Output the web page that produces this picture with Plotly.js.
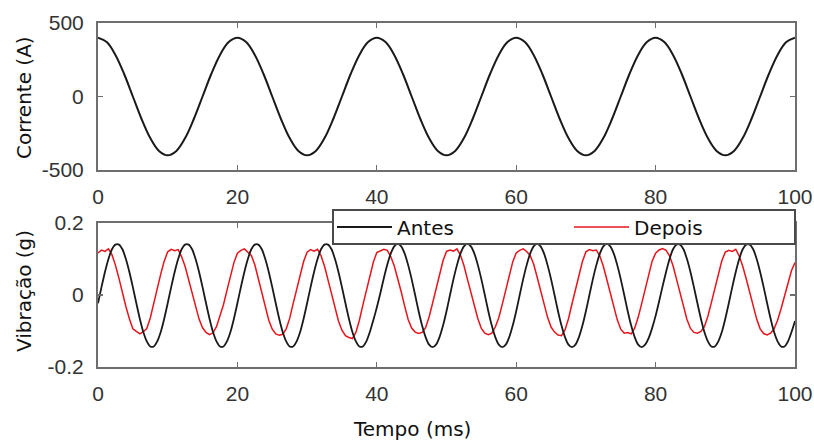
<!DOCTYPE html>
<html>
<head>
<meta charset="utf-8">
<script src="https://cdn.plot.ly/plotly-3.0.1.min.js"></script>
<style>html,body{margin:0;padding:0;background:#fff;}#chart{width:814px;height:440px;}</style>
</head>
<body>
<div id="chart"></div>
<script>
// ---- Data ----
// Top panel: current (A), sampled every 1.25 ms from 0 ms
const currentStart = 0;
const currentStep = 1.25;
const current = [
  400, 370, 283, 153, 0, -153, -283, -370, -400, -370, -283, -153, 0, 153, 283, 370,
  400, 370, 283, 153, 0, -153, -283, -370, -400, -370, -283, -153, 0, 153, 283, 370,
  400, 370, 283, 153, 0, -153, -283, -370, -400, -370, -283, -153, 0, 153, 283, 370,
  400, 370, 283, 153, 0, -153, -283, -370, -400, -370, -283, -153, 0, 153, 283, 370,
  400, 370, 283, 153, 0, -153, -283, -370, -400, -370, -283, -153, 0, 153, 283, 370,
  400
];

// Bottom panel: vibration (g), sampled every 0.5 ms from 0 ms
const vibStart = 0;
const vibStep = 0.5;
const vibAntes = [
  -0.023, 0.022, 0.064, 0.100, 0.127, 0.140, 0.140, 0.127, 0.100, 0.064, 0.022, -0.023, -0.066, -0.103, -0.129, -0.143, -0.143, -0.129, -0.103, -0.066,
  -0.023, 0.022, 0.064, 0.100, 0.127, 0.140, 0.140, 0.127, 0.100, 0.064, 0.022, -0.023, -0.066, -0.103, -0.129, -0.143, -0.143, -0.129, -0.103, -0.066,
  -0.023, 0.022, 0.064, 0.100, 0.127, 0.140, 0.140, 0.127, 0.100, 0.064, 0.022, -0.023, -0.066, -0.103, -0.129, -0.143, -0.143, -0.129, -0.103, -0.066,
  -0.023, 0.022, 0.064, 0.100, 0.127, 0.140, 0.140, 0.127, 0.100, 0.064, 0.022, -0.023, -0.066, -0.103, -0.129, -0.143, -0.143, -0.129, -0.103, -0.070,
  -0.035, 0.004, 0.046, 0.084, 0.115, 0.135, 0.142, 0.135, 0.115, 0.083, 0.044, 0.000, -0.045, -0.085, -0.117, -0.138, -0.145, -0.138, -0.117, -0.085,
  -0.045, 0.000, 0.044, 0.083, 0.115, 0.135, 0.142, 0.135, 0.115, 0.083, 0.044, 0.000, -0.045, -0.085, -0.117, -0.138, -0.145, -0.138, -0.117, -0.085,
  -0.045, 0.000, 0.044, 0.083, 0.115, 0.135, 0.142, 0.135, 0.115, 0.083, 0.044, 0.000, -0.045, -0.085, -0.117, -0.138, -0.145, -0.138, -0.117, -0.085,
  -0.045, 0.000, 0.044, 0.083, 0.115, 0.135, 0.142, 0.135, 0.115, 0.083, 0.044, 0.000, -0.045, -0.085, -0.117, -0.138, -0.145, -0.138, -0.120, -0.092,
  -0.058, -0.018, 0.024, 0.064, 0.100, 0.127, 0.140, 0.140, 0.127, 0.100, 0.064, 0.022, -0.023, -0.066, -0.103, -0.129, -0.143, -0.143, -0.129, -0.103,
  -0.066, -0.023, 0.022, 0.064, 0.100, 0.127, 0.140, 0.140, 0.127, 0.100, 0.064, 0.022, -0.023, -0.066, -0.103, -0.129, -0.143, -0.143, -0.129, -0.103,
  -0.072
];
const vibDepois = [
  0.117, 0.125, 0.121, 0.128, 0.112, 0.083, 0.047, 0.006, -0.032, -0.066, -0.094, -0.101, -0.108, -0.102, -0.093, -0.064, -0.022, 0.017, 0.058, 0.094,
  0.120, 0.127, 0.123, 0.126, 0.106, 0.079, 0.043, 0.010, -0.028, -0.067, -0.091, -0.104, -0.110, -0.105, -0.088, -0.060, -0.027, 0.013, 0.053, 0.090,
  0.116, 0.124, 0.128, 0.120, 0.110, 0.084, 0.046, 0.005, -0.033, -0.070, -0.095, -0.108, -0.112, -0.109, -0.094, -0.065, -0.024, 0.016, 0.056, 0.093,
  0.119, 0.126, 0.122, 0.127, 0.109, 0.080, 0.042, 0.004, -0.036, -0.072, -0.098, -0.113, -0.118, -0.121, -0.104, -0.070, -0.028, 0.014, 0.054, 0.091,
  0.118, 0.123, 0.127, 0.124, 0.107, 0.081, 0.048, 0.009, -0.031, -0.068, -0.092, -0.103, -0.107, -0.104, -0.091, -0.061, -0.023, 0.018, 0.057, 0.095,
  0.121, 0.125, 0.122, 0.128, 0.111, 0.082, 0.044, 0.007, -0.029, -0.066, -0.093, -0.106, -0.110, -0.106, -0.089, -0.063, -0.026, 0.015, 0.055, 0.092,
  0.117, 0.124, 0.128, 0.121, 0.110, 0.086, 0.050, 0.012, -0.026, -0.062, -0.089, -0.103, -0.111, -0.113, -0.097, -0.066, -0.025, 0.016, 0.057, 0.093,
  0.120, 0.126, 0.123, 0.125, 0.108, 0.080, 0.043, 0.006, -0.033, -0.069, -0.095, -0.106, -0.104, -0.108, -0.092, -0.062, -0.024, 0.017, 0.058, 0.094,
  0.116, 0.125, 0.129, 0.124, 0.109, 0.081, 0.044, 0.004, -0.034, -0.068, -0.093, -0.104, -0.106, -0.101, -0.088, -0.059, -0.021, 0.019, 0.059, 0.095,
  0.119, 0.124, 0.121, 0.127, 0.108, 0.080, 0.045, 0.007, -0.031, -0.067, -0.094, -0.107, -0.111, -0.106, -0.094, -0.070, -0.038, 0.000, 0.038, 0.068,
  0.090
];

const seriesNames = ['Antes', 'Depois'];
const xTickVals = [0, 20, 40, 60, 80, 100];
const xTickText = ['0', '20', '40', '60', '80', '100'];
const yTopTickVals = [-500, 0, 500];
const yTopTickText = ['-500', '0', '500'];
const yBotTickVals = [-0.2, 0, 0.2];
const yBotTickText = ['-0.2', '0', '0.2'];
const titles = {top: 'Corrente (A)', bottom: 'Vibração (g)', x: 'Tempo (ms)'};

// ---- Styling ----
const tickFont = {family: 'Liberation Sans, Arial, sans-serif', size: 21, color: '#333'};
const textFont = {family: 'DejaVu Sans, sans-serif', size: 20, color: '#111'};
const legendFont = {family: 'DejaVu Sans, sans-serif', size: 20, color: '#111'};
const boxColor = '#6e6e6e';

function axisBase(extra) {
  return Object.assign({
    showline: true, mirror: 'allticks', linecolor: boxColor, linewidth: 2,
    ticks: 'inside', ticklen: 5, tickwidth: 1.2, tickcolor: boxColor,
    showgrid: false, zeroline: false, tickfont: tickFont, fixedrange: true, automargin: false
  }, extra);
}

const traces = [
  {
    y: current, x0: currentStart, dx: currentStep, type: 'scatter', mode: 'lines',
    line: {color: '#1a1a1a', width: 2, shape: 'spline', smoothing: 1},
    xaxis: 'x', yaxis: 'y', showlegend: false, hoverinfo: 'skip'
  },
  {
    y: vibDepois, x0: vibStart, dx: vibStep, type: 'scatter', mode: 'lines', name: seriesNames[1],
    line: {color: '#e8141b', width: 1.5}, legendrank: 2, legendwidth: 70,
    xaxis: 'x2', yaxis: 'y2', hoverinfo: 'skip'
  },
  {
    y: vibAntes, x0: vibStart, dx: vibStep, type: 'scatter', mode: 'lines', name: seriesNames[0],
    line: {color: '#1a1a1a', width: 1.8, shape: 'spline', smoothing: 0.6}, legendrank: 1, legendwidth: 167,
    xaxis: 'x2', yaxis: 'y2', hoverinfo: 'skip'
  }
];

// plot area pixels: left 98, right 795, top 23, bottom 367
const L = 98, R = 795, T = 23, B = 367;
const W = 814, H = 440;
const pw = R - L, ph = B - T;
const fx = px => (px - L) / pw;
const fy = py => (B - py) / ph;

const layout = {
  width: W, height: H,
  margin: {l: L, r: W - R, t: T, b: H - B, pad: 0, autoexpand: false},
  paper_bgcolor: '#fff', plot_bgcolor: '#fff',
  showlegend: true,
  xaxis: axisBase({domain: [0, 1], range: [0, 100], tickvals: xTickVals, ticktext: xTickText, anchor: 'y', ticklabelstandoff: 7}),
  yaxis: axisBase({domain: [fy(170), 1], range: [-500, 500], tickvals: yTopTickVals, ticktext: yTopTickText, anchor: 'x', ticklabelstandoff: 8}),
  xaxis2: axisBase({domain: [0, 1], range: [0, 100], tickvals: xTickVals, ticktext: xTickText, anchor: 'y2', ticklabelstandoff: 7}),
  yaxis2: axisBase({domain: [0, fy(223)], range: [-0.2, 0.2], tickvals: yBotTickVals, ticktext: yBotTickText, anchor: 'x2', ticklabelstandoff: 8}),
  legend: {
    orientation: 'h', x: fx(332), y: fy(227), xanchor: 'left', yanchor: 'middle',
    bgcolor: 'rgba(0,0,0,0)', borderwidth: 0, font: legendFont,
    itemwidth: 55, entrywidthmode: 'pixels', traceorder: 'normal'
  },
  shapes: [
    {type: 'rect', xref: 'paper', yref: 'paper', x0: fx(333), x1: fx(795), y0: fy(244), y1: fy(210),
     fillcolor: '#fff', line: {color: '#4a4a4a', width: 2}, layer: 'above'}
  ],
  annotations: [
    {text: titles.top, xref: 'paper', yref: 'paper', x: fx(24), y: fy(98), textangle: -90,
     showarrow: false, font: textFont, xanchor: 'center', yanchor: 'middle'},
    {text: titles.bottom, xref: 'paper', yref: 'paper', x: fx(24), y: fy(291), textangle: -90,
     showarrow: false, font: textFont, xanchor: 'center', yanchor: 'middle'},
    {text: titles.x, xref: 'paper', yref: 'paper', x: fx(412), y: fy(429),
     showarrow: false, font: textFont, xanchor: 'center', yanchor: 'middle'}
  ]
};

Plotly.newPlot('chart', traces, layout, {displayModeBar: false, staticPlot: true});
</script>
</body>
</html>
